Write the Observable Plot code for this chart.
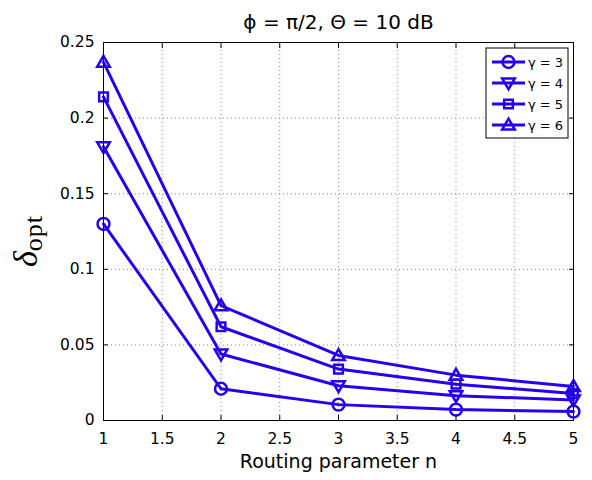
<!DOCTYPE html>
<html><head><meta charset="utf-8">
<script src="https://cdn.jsdelivr.net/npm/d3@7"></script>
<script src="https://cdn.jsdelivr.net/npm/@observablehq/plot@0.6"></script>
<style>
body{margin:0;background:#fff}
#chart svg{display:block}
</style>
</head><body><div id="chart"></div>
<script>
// ---- data ----
const routing = [1, 2, 3, 4, 5];
const gammas = [3, 4, 5, 6];
const delta_g3 = [0.130, 0.021, 0.0105, 0.0072, 0.0059];
const delta_g4 = [0.181, 0.044, 0.023, 0.0164, 0.0136];
const delta_g5 = [0.214, 0.062, 0.034, 0.024, 0.0178];
const delta_g6 = [0.237, 0.076, 0.043, 0.030, 0.0225];
const xTicks = [1, 1.5, 2, 2.5, 3, 3.5, 4, 4.5, 5];
const yTicks = [0, 0.05, 0.1, 0.15, 0.2, 0.25];
const legendLabels = ["γ = 3", "γ = 4", "γ = 5", "γ = 6"];
const titleText = "ϕ = π/2, Θ = 10 dB";
const xLabel = "Routing parameter n";

const series = [delta_g3, delta_g4, delta_g5, delta_g6];
const color = "#2600ee";

// ---- marker symbols ----
const R = s => Math.sqrt(s / Math.PI);
const symCircle = {draw(c, s){ const r = R(s)*0.85; c.moveTo(r,0); c.arc(0,0,r,0,2*Math.PI); c.closePath(); }};
const symTriUp = {draw(c, s){ const r = R(s); c.moveTo(0,-r*0.9); c.lineTo(r*0.9,r*0.65); c.lineTo(-r*0.9,r*0.65); c.closePath(); }};
const symTriDown = {draw(c, s){ const r = R(s); c.moveTo(0,r*0.9); c.lineTo(r*0.9,-r*0.65); c.lineTo(-r*0.9,-r*0.65); c.closePath(); }};
const symSquare = {draw(c, s){ const h = R(s)*0.62; c.rect(-h,-h,2*h,2*h); }};
const symbols = [symCircle, symTriDown, symSquare, symTriUp];
const markR = 7;

const rowsFor = i => routing.map((n, j) => ({n, delta: series[i][j], gamma: gammas[i]}));

const marks = [];
// grid
marks.push(Plot.ruleX(xTicks.slice(1, -1), {stroke: "#8a8a8a", strokeDasharray: "1,3", strokeWidth: 1}));
marks.push(Plot.ruleY(yTicks.slice(1, -1), {stroke: "#8a8a8a", strokeDasharray: "1,3", strokeWidth: 1}));
// series
gammas.forEach((g, i) => {
  const rows = rowsFor(i);
  marks.push(Plot.line(rows, {x: "n", y: "delta", stroke: color, strokeWidth: 3, strokeLinejoin: "round"}));
  marks.push(Plot.dot(rows, {x: "n", y: "delta", symbol: symbols[i], r: markR, stroke: color, strokeWidth: 2.5, fill: "none"}));
});
marks.push(Plot.frame({stroke: "black", strokeWidth: 1}));
// axes with inward ticks
marks.push(Plot.axisX(xTicks, {anchor: "bottom", tickSize: -5, tickPadding: 17, label: null, tickFormat: d => String(d), fontSize: 15.5, fill: "black"}));
marks.push(Plot.axisX(xTicks, {anchor: "top", tickSize: -5, label: null, tickFormat: () => ""}));
marks.push(Plot.axisY(yTicks, {anchor: "left", tickSize: -5, tickPadding: 14, label: null, tickFormat: d => String(d), fontSize: 15.5, fill: "black"}));
marks.push(Plot.axisY(yTicks, {anchor: "right", tickSize: -5, label: null, tickFormat: () => ""}));
// title and x label
marks.push(Plot.text([titleText], {text: d => d, frameAnchor: "top", dy: -28, fontSize: 20, fill: "black"}));
marks.push(Plot.text([xLabel], {text: d => d, frameAnchor: "bottom", dy: 47, fontSize: 19, fill: "black", letterSpacing: 0.3}));

const chart = Plot.plot({
  width: 592,
  height: 480,
  marginTop: 42,
  marginRight: 19,
  marginBottom: 60,
  marginLeft: 103,
  style: {fontFamily: "DejaVu Sans", fontSize: "15.5px", color: "black", background: "white"},
  x: {domain: [1, 5]},
  y: {domain: [0, 0.25]},
  marks
});

// y-axis label (delta with subscript)
const svg = d3.select(chart);
const yl = svg.append("text")
  .attr("transform", "translate(37,241) rotate(-90)")
  .attr("text-anchor", "middle")
  .attr("fill", "black")
  .style("font-family", "'Liberation Serif', 'DejaVu Serif', serif");
yl.append("tspan").text("δ").style("font-style", "italic").style("font-size", "34px");
yl.append("tspan").text("opt").attr("dy", 5).style("font-size", "26px").style("letter-spacing", "1px");

// legend
const lg = svg.append("g");
lg.append("rect").attr("x", 486).attr("y", 48).attr("width", 82).attr("height", 90)
  .attr("fill", "white").attr("stroke", "black").attr("stroke-width", 1);
gammas.forEach((g, i) => {
  const yy = 62 + i * 21;
  lg.append("line").attr("x1", 492).attr("x2", 525).attr("y1", yy).attr("y2", yy)
    .attr("stroke", color).attr("stroke-width", 3);
  lg.append("path").attr("transform", `translate(508.5,${yy})`)
    .attr("d", d3.symbol(symbols[i], markR * markR * Math.PI)())
    .attr("fill", "none").attr("stroke", color).attr("stroke-width", 2.5);
  lg.append("text").attr("x", 528).attr("y", yy).attr("dy", "0.35em")
    .attr("text-anchor", "start")
    .style("font-family", "DejaVu Sans").style("font-size", "13px").attr("fill", "black")
    .text(legendLabels[i]);
});

document.getElementById("chart").appendChild(chart);
</script>
</body></html>
